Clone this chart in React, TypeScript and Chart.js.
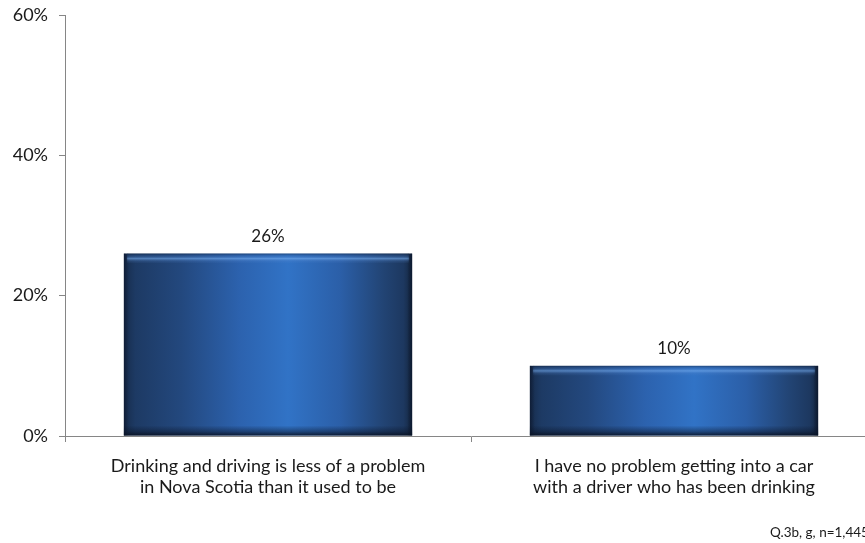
import React, { useEffect, useRef } from "react";
import { Chart, registerables } from "chart.js";

Chart.register(...registerables);

const categories: string[][] = [
  ["Drinking and driving is less of a problem", "in Nova Scotia than it used to be"],
  ["I have no problem getting into a car", "with a driver who has been drinking"],
];
const values: number[] = [26, 10];
const yTicks: number[] = [0, 20, 40, 60];
const footnote = "Q.3b, g, n=1,445";

const FONT = "Lato, 'Open Sans', sans-serif";

const barStyle = {
  id: "barStyle",
  afterDatasetsDraw(chart: any) {
    const ctx = chart.ctx as CanvasRenderingContext2D;
    const meta = chart.getDatasetMeta(0);
    meta.data.forEach((el: any, i: number) => {
      const { x, y, base, width } = el.getProps(["x", "y", "base", "width"], true);
      const left = x - width / 2;
      const top = y;
      const h = base - y;
      ctx.save();
      const g = ctx.createLinearGradient(left, 0, left + width, 0);
      g.addColorStop(0, "#172c4c");
      g.addColorStop(0.04, "#1d3a64");
      g.addColorStop(0.2, "#23487e");
      g.addColorStop(0.4, "#2c62ae");
      g.addColorStop(0.57, "#3173c6");
      g.addColorStop(0.75, "#2b5fa8");
      g.addColorStop(0.9, "#224474");
      g.addColorStop(0.97, "#1d3860");
      g.addColorStop(1, "#142640");
      ctx.fillStyle = g;
      ctx.fillRect(left, top, width, h);
      // top bevel highlight
      const tg = ctx.createLinearGradient(0, top, 0, top + 10);
      tg.addColorStop(0, "rgba(15,30,55,0.5)");
      tg.addColorStop(0.25, "rgba(60,110,180,0.3)");
      tg.addColorStop(0.5, "rgba(120,175,240,0.6)");
      tg.addColorStop(0.75, "rgba(90,140,210,0.2)");
      tg.addColorStop(1, "rgba(90,140,210,0)");
      ctx.fillStyle = tg;
      ctx.fillRect(left + 3, top, width - 6, 10);
      // bottom shadow
      const bg = ctx.createLinearGradient(0, base - 10, 0, base);
      bg.addColorStop(0, "rgba(10,20,40,0)");
      bg.addColorStop(0.6, "rgba(10,20,40,0.45)");
      bg.addColorStop(1, "rgba(8,15,30,0.85)");
      ctx.fillStyle = bg;
      ctx.fillRect(left, base - 10, width, 10);
      // side edges
      const lg = ctx.createLinearGradient(left, 0, left + 5, 0);
      lg.addColorStop(0, "rgba(10,20,40,0.6)");
      lg.addColorStop(1, "rgba(10,20,40,0)");
      ctx.fillStyle = lg;
      ctx.fillRect(left, top, 5, h);
      const rg = ctx.createLinearGradient(left + width - 5, 0, left + width, 0);
      rg.addColorStop(0, "rgba(10,20,40,0)");
      rg.addColorStop(1, "rgba(10,20,40,0.7)");
      ctx.fillStyle = rg;
      ctx.fillRect(left + width - 5, top, 5, h);
      // value label
      ctx.fillStyle = "#1a1a1a";
      ctx.font = `17px ${FONT}`;
      ctx.textAlign = "center";
      ctx.textBaseline = "middle";
      ctx.fillText(`${values[i]}%`, x, top - 17);
      ctx.restore();
    });
  },
};

export default function App() {
  const ref = useRef<HTMLCanvasElement>(null);
  useEffect(() => {
    if (!ref.current) return;
    const chart = new Chart(ref.current, {
      type: "bar",
      data: {
        labels: categories,
        datasets: [
          {
            data: values,
            backgroundColor: "rgba(0,0,0,0)",
            borderWidth: 0,
            barPercentage: 0.71,
            categoryPercentage: 1,
          },
        ],
      },
      options: {
        animation: false,
        responsive: false,
        devicePixelRatio: 1,
        layout: { padding: { top: 15, left: 0, right: 0, bottom: 0 } },
        plugins: { legend: { display: false }, tooltip: { enabled: false } },
        scales: {
          x: {
            grid: {
              display: true,
              drawOnChartArea: false,
              drawTicks: true,
              tickLength: 6,
              color: "#868686",
              offset: true,
            },
            border: { display: true, color: "#868686", width: 1 },
            ticks: {
              color: "#1a1a1a",
              font: { family: FONT, size: 18 },
              padding: 13,
              maxRotation: 0,
              autoSkip: false,
            },
            afterFit: (s: any) => {
              s.height = 107;
              s.paddingLeft = 0;
              s.paddingRight = 0;
            },
          },
          y: {
            min: 0,
            max: 60,
            afterBuildTicks: (s: any) => {
              s.ticks = yTicks.map((v) => ({ value: v }));
            },
            grid: {
              display: true,
              drawOnChartArea: false,
              drawTicks: true,
              tickLength: 6,
              color: "#868686",
            },
            border: { display: true, color: "#868686", width: 1 },
            ticks: {
              color: "#1a1a1a",
              font: { family: FONT, size: 18 },
              padding: 11,
              callback: (v: any) => `${v}%`,
            },
            afterFit: (s: any) => {
              s.width = 65;
              s.paddingTop = 0;
              s.paddingBottom = 0;
            },
          },
        },
      },
      plugins: [barStyle],
    });
    return () => chart.destroy();
  }, []);

  return (
    <div
      style={{
        position: "fixed",
        left: 0,
        top: 0,
        width: 865,
        height: 543,
        overflow: "hidden",
        background: "#fff",
      }}
    >
      <canvas ref={ref} width={877} height={543} style={{ display: "block" }} />
      <div
        style={{
          position: "absolute",
          left: 770,
          top: 525,
          fontFamily: FONT,
          fontSize: 13.5,
          lineHeight: "15px",
          color: "#1a1a1a",
          whiteSpace: "nowrap",
        }}
      >
        {footnote}
      </div>
    </div>
  );
}
